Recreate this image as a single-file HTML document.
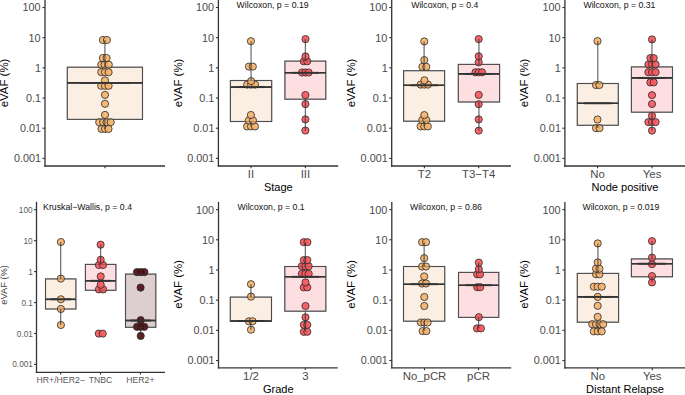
<!DOCTYPE html>
<html><head><meta charset="utf-8"><title>eVAF boxplots</title>
<style>
html,body{margin:0;padding:0;background:#fff;}
body{width:685px;height:395px;overflow:hidden;}
svg{display:block;font-family:"Liberation Sans",sans-serif;}
</style></head>
<body>
<svg width="685" height="395" viewBox="0 0 685 395">
<rect x="0" y="0" width="685" height="395" fill="#fff"/>
<g>
<line x1="45.0" y1="0" x2="45.0" y2="166.65" stroke="#333333" stroke-width="1.3" />
<line x1="44.35" y1="166.0" x2="165.0" y2="166.0" stroke="#333333" stroke-width="1.3" />
<line x1="42.5" y1="7.5" x2="45.0" y2="7.5" stroke="#333333" stroke-width="1.1" />
<text x="0" y="0" font-size="11.4" fill="#4a4a4a" text-anchor="end" transform="translate(40.60,11.48) scale(0.95,1)" >100</text>
<line x1="42.5" y1="37.68" x2="45.0" y2="37.68" stroke="#333333" stroke-width="1.1" />
<text x="0" y="0" font-size="11.4" fill="#4a4a4a" text-anchor="end" transform="translate(40.60,41.66) scale(0.95,1)" >10</text>
<line x1="42.5" y1="67.86" x2="45.0" y2="67.86" stroke="#333333" stroke-width="1.1" />
<text x="0" y="0" font-size="11.4" fill="#4a4a4a" text-anchor="end" transform="translate(41.00,71.84) scale(0.95,1)" >1</text>
<line x1="42.5" y1="98.04" x2="45.0" y2="98.04" stroke="#333333" stroke-width="1.1" />
<text x="0" y="0" font-size="11.4" fill="#4a4a4a" text-anchor="end" transform="translate(41.00,102.02) scale(0.95,1)" >0.1</text>
<line x1="42.5" y1="128.22" x2="45.0" y2="128.22" stroke="#333333" stroke-width="1.1" />
<text x="0" y="0" font-size="11.4" fill="#4a4a4a" text-anchor="end" transform="translate(41.00,132.20) scale(0.95,1)" >0.01</text>
<line x1="42.5" y1="158.4" x2="45.0" y2="158.4" stroke="#333333" stroke-width="1.1" />
<text x="0" y="0" font-size="11.4" fill="#4a4a4a" text-anchor="end" transform="translate(41.00,162.38) scale(0.95,1)" >0.001</text>
<text x="0" y="0" font-size="11.45" fill="#000" text-anchor="middle" transform="translate(7.6,83.0) rotate(-90)">eVAF (%)</text>
<line x1="105.0" y1="166.0" x2="105.0" y2="168.3" stroke="#333333" stroke-width="1.1" />
<text x="105.0" y="177.8" font-size="11.4" fill="#4a4a4a" text-anchor="middle" ></text>
<rect x="67.3" y="67.2" width="75.2" height="52.2" fill="#FBEFE3" stroke="#4d4d4d" stroke-width="1.1"/>
<line x1="67.3" y1="82.9" x2="142.5" y2="82.9" stroke="#333333" stroke-width="1.6" />
<circle cx="101.5" cy="128.9" r="3.6" fill="#F4B36C" fill-opacity="0.92" stroke="#2a2a2a" stroke-width="0.8"/>
<circle cx="105" cy="128.9" r="3.6" fill="#F4B36C" fill-opacity="0.92" stroke="#2a2a2a" stroke-width="0.8"/>
<circle cx="108.5" cy="128.9" r="3.6" fill="#F4B36C" fill-opacity="0.92" stroke="#2a2a2a" stroke-width="0.8"/>
<circle cx="99.2" cy="122.2" r="3.6" fill="#F4B36C" fill-opacity="0.92" stroke="#2a2a2a" stroke-width="0.8"/>
<circle cx="103.2" cy="122.2" r="3.6" fill="#F4B36C" fill-opacity="0.92" stroke="#2a2a2a" stroke-width="0.8"/>
<circle cx="106.6" cy="122.2" r="3.6" fill="#F4B36C" fill-opacity="0.92" stroke="#2a2a2a" stroke-width="0.8"/>
<circle cx="110.7" cy="122.2" r="3.6" fill="#F4B36C" fill-opacity="0.92" stroke="#2a2a2a" stroke-width="0.8"/>
<circle cx="105" cy="114.9" r="3.6" fill="#F4B36C" fill-opacity="0.92" stroke="#2a2a2a" stroke-width="0.8"/>
<circle cx="105" cy="103.8" r="3.6" fill="#F4B36C" fill-opacity="0.92" stroke="#2a2a2a" stroke-width="0.8"/>
<circle cx="105" cy="94.9" r="3.6" fill="#F4B36C" fill-opacity="0.92" stroke="#2a2a2a" stroke-width="0.8"/>
<circle cx="101.2" cy="85.8" r="3.6" fill="#F4B36C" fill-opacity="0.92" stroke="#2a2a2a" stroke-width="0.8"/>
<circle cx="105" cy="85.8" r="3.6" fill="#F4B36C" fill-opacity="0.92" stroke="#2a2a2a" stroke-width="0.8"/>
<circle cx="108.6" cy="85.8" r="3.6" fill="#F4B36C" fill-opacity="0.92" stroke="#2a2a2a" stroke-width="0.8"/>
<circle cx="105" cy="80.4" r="3.6" fill="#F4B36C" fill-opacity="0.92" stroke="#2a2a2a" stroke-width="0.8"/>
<circle cx="101.3" cy="72.2" r="3.6" fill="#F4B36C" fill-opacity="0.92" stroke="#2a2a2a" stroke-width="0.8"/>
<circle cx="105" cy="72.2" r="3.6" fill="#F4B36C" fill-opacity="0.92" stroke="#2a2a2a" stroke-width="0.8"/>
<circle cx="108.6" cy="72.2" r="3.6" fill="#F4B36C" fill-opacity="0.92" stroke="#2a2a2a" stroke-width="0.8"/>
<circle cx="101.3" cy="64.7" r="3.6" fill="#F4B36C" fill-opacity="0.92" stroke="#2a2a2a" stroke-width="0.8"/>
<circle cx="104.6" cy="64.7" r="3.6" fill="#F4B36C" fill-opacity="0.92" stroke="#2a2a2a" stroke-width="0.8"/>
<circle cx="108.8" cy="64.7" r="3.6" fill="#F4B36C" fill-opacity="0.92" stroke="#2a2a2a" stroke-width="0.8"/>
<circle cx="102.9" cy="58" r="3.6" fill="#F4B36C" fill-opacity="0.92" stroke="#2a2a2a" stroke-width="0.8"/>
<circle cx="106.6" cy="58" r="3.6" fill="#F4B36C" fill-opacity="0.92" stroke="#2a2a2a" stroke-width="0.8"/>
<circle cx="102.9" cy="40" r="3.6" fill="#F4B36C" fill-opacity="0.92" stroke="#2a2a2a" stroke-width="0.8"/>
<circle cx="106.9" cy="40" r="3.6" fill="#F4B36C" fill-opacity="0.92" stroke="#2a2a2a" stroke-width="0.8"/>
<line x1="104.9" y1="40" x2="104.9" y2="67.2" stroke="#333333" stroke-width="1.1" stroke-opacity="0.8"/>
<line x1="104.9" y1="119.4" x2="104.9" y2="128.9" stroke="#333333" stroke-width="1.1" stroke-opacity="0.8"/>
<rect x="67.3" y="67.2" width="75.2" height="52.2" fill="none" stroke="#4d4d4d" stroke-width="1.1" stroke-opacity="0.35"/>
<line x1="67.3" y1="82.9" x2="142.5" y2="82.9" stroke="#333333" stroke-width="1.6" stroke-opacity="0.6"/>
<line x1="79.83333333333334" y1="82.9" x2="129.96666666666667" y2="82.9" stroke="#333" stroke-width="1.9" />
</g>
<g>
<line x1="218.4" y1="0" x2="218.4" y2="166.65" stroke="#333333" stroke-width="1.3" />
<line x1="217.75" y1="166.0" x2="338.2" y2="166.0" stroke="#333333" stroke-width="1.3" />
<line x1="215.9" y1="7.5" x2="218.4" y2="7.5" stroke="#333333" stroke-width="1.1" />
<text x="0" y="0" font-size="11.4" fill="#4a4a4a" text-anchor="end" transform="translate(214.00,11.48) scale(0.95,1)" >100</text>
<line x1="215.9" y1="37.68" x2="218.4" y2="37.68" stroke="#333333" stroke-width="1.1" />
<text x="0" y="0" font-size="11.4" fill="#4a4a4a" text-anchor="end" transform="translate(214.00,41.66) scale(0.95,1)" >10</text>
<line x1="215.9" y1="67.86" x2="218.4" y2="67.86" stroke="#333333" stroke-width="1.1" />
<text x="0" y="0" font-size="11.4" fill="#4a4a4a" text-anchor="end" transform="translate(214.40,71.84) scale(0.95,1)" >1</text>
<line x1="215.9" y1="98.04" x2="218.4" y2="98.04" stroke="#333333" stroke-width="1.1" />
<text x="0" y="0" font-size="11.4" fill="#4a4a4a" text-anchor="end" transform="translate(214.40,102.02) scale(0.95,1)" >0.1</text>
<line x1="215.9" y1="128.22" x2="218.4" y2="128.22" stroke="#333333" stroke-width="1.1" />
<text x="0" y="0" font-size="11.4" fill="#4a4a4a" text-anchor="end" transform="translate(214.40,132.20) scale(0.95,1)" >0.01</text>
<line x1="215.9" y1="158.4" x2="218.4" y2="158.4" stroke="#333333" stroke-width="1.1" />
<text x="0" y="0" font-size="11.4" fill="#4a4a4a" text-anchor="end" transform="translate(214.40,162.38) scale(0.95,1)" >0.001</text>
<text x="0" y="0" font-size="11.45" fill="#000" text-anchor="middle" transform="translate(181.7,83.0) rotate(-90)">eVAF (%)</text>
<line x1="251.0" y1="166.0" x2="251.0" y2="168.3" stroke="#333333" stroke-width="1.1" />
<text x="251.0" y="177.8" font-size="11.4" fill="#4a4a4a" text-anchor="middle" >II</text>
<line x1="305.4" y1="166.0" x2="305.4" y2="168.3" stroke="#333333" stroke-width="1.1" />
<text x="305.4" y="177.8" font-size="11.4" fill="#4a4a4a" text-anchor="middle" >III</text>
<rect x="230.4" y="80.5" width="41.29999999999998" height="41.0" fill="#FBEFE3" stroke="#4d4d4d" stroke-width="1.1"/>
<line x1="230.4" y1="87.1" x2="271.7" y2="87.1" stroke="#333333" stroke-width="1.6" />
<rect x="284.9" y="61.1" width="40.900000000000034" height="38.1" fill="#FDDFE1" stroke="#4d4d4d" stroke-width="1.1"/>
<line x1="284.9" y1="72.8" x2="325.8" y2="72.8" stroke="#333333" stroke-width="1.6" />
<circle cx="247.1" cy="126.4" r="3.6" fill="#F4B36C" fill-opacity="0.92" stroke="#2a2a2a" stroke-width="0.8"/>
<circle cx="251" cy="126.4" r="3.6" fill="#F4B36C" fill-opacity="0.92" stroke="#2a2a2a" stroke-width="0.8"/>
<circle cx="254.9" cy="126.4" r="3.6" fill="#F4B36C" fill-opacity="0.92" stroke="#2a2a2a" stroke-width="0.8"/>
<circle cx="248.8" cy="120.5" r="3.6" fill="#F4B36C" fill-opacity="0.92" stroke="#2a2a2a" stroke-width="0.8"/>
<circle cx="253.0" cy="120.5" r="3.6" fill="#F4B36C" fill-opacity="0.92" stroke="#2a2a2a" stroke-width="0.8"/>
<circle cx="250.9" cy="115" r="3.6" fill="#F4B36C" fill-opacity="0.92" stroke="#2a2a2a" stroke-width="0.8"/>
<circle cx="247.2" cy="84.6" r="3.6" fill="#F4B36C" fill-opacity="0.92" stroke="#2a2a2a" stroke-width="0.8"/>
<circle cx="251.1" cy="84.6" r="3.6" fill="#F4B36C" fill-opacity="0.92" stroke="#2a2a2a" stroke-width="0.8"/>
<circle cx="255.0" cy="84.6" r="3.6" fill="#F4B36C" fill-opacity="0.92" stroke="#2a2a2a" stroke-width="0.8"/>
<circle cx="251.1" cy="81.1" r="3.6" fill="#F4B36C" fill-opacity="0.92" stroke="#2a2a2a" stroke-width="0.8"/>
<circle cx="249.0" cy="66.6" r="3.6" fill="#F4B36C" fill-opacity="0.92" stroke="#2a2a2a" stroke-width="0.8"/>
<circle cx="252.8" cy="66.6" r="3.6" fill="#F4B36C" fill-opacity="0.92" stroke="#2a2a2a" stroke-width="0.8"/>
<circle cx="250.9" cy="41.2" r="3.6" fill="#F4B36C" fill-opacity="0.92" stroke="#2a2a2a" stroke-width="0.8"/>
<circle cx="305.4" cy="130.5" r="3.6" fill="#F6575D" fill-opacity="0.92" stroke="#2a2a2a" stroke-width="0.8"/>
<circle cx="305.4" cy="119.4" r="3.6" fill="#F6575D" fill-opacity="0.92" stroke="#2a2a2a" stroke-width="0.8"/>
<circle cx="305.4" cy="104.1" r="3.6" fill="#F6575D" fill-opacity="0.92" stroke="#2a2a2a" stroke-width="0.8"/>
<circle cx="305.4" cy="95" r="3.6" fill="#F6575D" fill-opacity="0.92" stroke="#2a2a2a" stroke-width="0.8"/>
<circle cx="302.1" cy="72.5" r="3.6" fill="#F6575D" fill-opacity="0.92" stroke="#2a2a2a" stroke-width="0.8"/>
<circle cx="305.4" cy="72.5" r="3.6" fill="#F6575D" fill-opacity="0.92" stroke="#2a2a2a" stroke-width="0.8"/>
<circle cx="308.6" cy="72.5" r="3.6" fill="#F6575D" fill-opacity="0.92" stroke="#2a2a2a" stroke-width="0.8"/>
<circle cx="303.8" cy="61.3" r="3.6" fill="#F6575D" fill-opacity="0.92" stroke="#2a2a2a" stroke-width="0.8"/>
<circle cx="307.2" cy="61.3" r="3.6" fill="#F6575D" fill-opacity="0.92" stroke="#2a2a2a" stroke-width="0.8"/>
<circle cx="305.5" cy="56.4" r="3.6" fill="#F6575D" fill-opacity="0.92" stroke="#2a2a2a" stroke-width="0.8"/>
<circle cx="305.5" cy="39.1" r="3.6" fill="#F6575D" fill-opacity="0.92" stroke="#2a2a2a" stroke-width="0.8"/>
<line x1="251.05" y1="41.2" x2="251.05" y2="80.5" stroke="#333333" stroke-width="1.1" stroke-opacity="0.8"/>
<line x1="251.05" y1="121.5" x2="251.05" y2="126.4" stroke="#333333" stroke-width="1.1" stroke-opacity="0.8"/>
<rect x="230.4" y="80.5" width="41.29999999999998" height="41.0" fill="none" stroke="#4d4d4d" stroke-width="1.1" stroke-opacity="0.35"/>
<line x1="230.4" y1="87.1" x2="271.7" y2="87.1" stroke="#333333" stroke-width="1.6" stroke-opacity="0.6"/>
<line x1="305.35" y1="39.1" x2="305.35" y2="61.1" stroke="#333333" stroke-width="1.1" stroke-opacity="0.8"/>
<line x1="305.35" y1="99.2" x2="305.35" y2="130.5" stroke="#333333" stroke-width="1.1" stroke-opacity="0.8"/>
<rect x="284.9" y="61.1" width="40.900000000000034" height="38.1" fill="none" stroke="#4d4d4d" stroke-width="1.1" stroke-opacity="0.35"/>
<line x1="284.9" y1="72.8" x2="325.8" y2="72.8" stroke="#333333" stroke-width="1.6" stroke-opacity="0.6"/>
<line x1="237.28333333333336" y1="87.1" x2="264.81666666666666" y2="87.1" stroke="#333" stroke-width="1.9" />
<line x1="291.7166666666667" y1="72.8" x2="318.98333333333335" y2="72.8" stroke="#333" stroke-width="1.9" />
<text x="0" y="0" font-size="9.0" fill="#111" text-anchor="start" transform="translate(236.60,7.90) scale(0.97,1)" >Wilcoxon, p = 0.19</text>
<text x="0" y="0" font-size="11.5" fill="#000" text-anchor="middle" transform="translate(278.30,190.60) scale(0.96,1)" >Stage</text>
</g>
<g>
<line x1="391.7" y1="0" x2="391.7" y2="166.65" stroke="#333333" stroke-width="1.3" />
<line x1="391.05" y1="166.0" x2="510.9" y2="166.0" stroke="#333333" stroke-width="1.3" />
<line x1="389.2" y1="7.5" x2="391.7" y2="7.5" stroke="#333333" stroke-width="1.1" />
<text x="0" y="0" font-size="11.4" fill="#4a4a4a" text-anchor="end" transform="translate(387.30,11.48) scale(0.95,1)" >100</text>
<line x1="389.2" y1="37.68" x2="391.7" y2="37.68" stroke="#333333" stroke-width="1.1" />
<text x="0" y="0" font-size="11.4" fill="#4a4a4a" text-anchor="end" transform="translate(387.30,41.66) scale(0.95,1)" >10</text>
<line x1="389.2" y1="67.86" x2="391.7" y2="67.86" stroke="#333333" stroke-width="1.1" />
<text x="0" y="0" font-size="11.4" fill="#4a4a4a" text-anchor="end" transform="translate(387.70,71.84) scale(0.95,1)" >1</text>
<line x1="389.2" y1="98.04" x2="391.7" y2="98.04" stroke="#333333" stroke-width="1.1" />
<text x="0" y="0" font-size="11.4" fill="#4a4a4a" text-anchor="end" transform="translate(387.70,102.02) scale(0.95,1)" >0.1</text>
<line x1="389.2" y1="128.22" x2="391.7" y2="128.22" stroke="#333333" stroke-width="1.1" />
<text x="0" y="0" font-size="11.4" fill="#4a4a4a" text-anchor="end" transform="translate(387.70,132.20) scale(0.95,1)" >0.01</text>
<line x1="389.2" y1="158.4" x2="391.7" y2="158.4" stroke="#333333" stroke-width="1.1" />
<text x="0" y="0" font-size="11.4" fill="#4a4a4a" text-anchor="end" transform="translate(387.70,162.38) scale(0.95,1)" >0.001</text>
<text x="0" y="0" font-size="11.45" fill="#000" text-anchor="middle" transform="translate(354.95,83.0) rotate(-90)">eVAF (%)</text>
<line x1="424.4" y1="166.0" x2="424.4" y2="168.3" stroke="#333333" stroke-width="1.1" />
<text x="424.4" y="177.8" font-size="11.4" fill="#4a4a4a" text-anchor="middle" >T2</text>
<line x1="478.7" y1="166.0" x2="478.7" y2="168.3" stroke="#333333" stroke-width="1.1" />
<text x="478.7" y="177.8" font-size="11.4" fill="#4a4a4a" text-anchor="middle" >T3−T4</text>
<rect x="403.6" y="70.7" width="41.0" height="50.5" fill="#FBEFE3" stroke="#4d4d4d" stroke-width="1.1"/>
<line x1="403.6" y1="85.3" x2="444.6" y2="85.3" stroke="#333333" stroke-width="1.6" />
<rect x="458.3" y="64.4" width="41.30000000000001" height="37.599999999999994" fill="#FDDFE1" stroke="#4d4d4d" stroke-width="1.1"/>
<line x1="458.3" y1="73.9" x2="499.6" y2="73.9" stroke="#333333" stroke-width="1.6" />
<circle cx="420.6" cy="126.4" r="3.6" fill="#F4B36C" fill-opacity="0.92" stroke="#2a2a2a" stroke-width="0.8"/>
<circle cx="424.3" cy="126.4" r="3.6" fill="#F4B36C" fill-opacity="0.92" stroke="#2a2a2a" stroke-width="0.8"/>
<circle cx="427.8" cy="126.4" r="3.6" fill="#F4B36C" fill-opacity="0.92" stroke="#2a2a2a" stroke-width="0.8"/>
<circle cx="422.3" cy="120" r="3.6" fill="#F4B36C" fill-opacity="0.92" stroke="#2a2a2a" stroke-width="0.8"/>
<circle cx="426.3" cy="120" r="3.6" fill="#F4B36C" fill-opacity="0.92" stroke="#2a2a2a" stroke-width="0.8"/>
<circle cx="424.3" cy="115.1" r="3.6" fill="#F4B36C" fill-opacity="0.92" stroke="#2a2a2a" stroke-width="0.8"/>
<circle cx="420.7" cy="84.6" r="3.6" fill="#F4B36C" fill-opacity="0.92" stroke="#2a2a2a" stroke-width="0.8"/>
<circle cx="424.3" cy="84.6" r="3.6" fill="#F4B36C" fill-opacity="0.92" stroke="#2a2a2a" stroke-width="0.8"/>
<circle cx="427.9" cy="84.6" r="3.6" fill="#F4B36C" fill-opacity="0.92" stroke="#2a2a2a" stroke-width="0.8"/>
<circle cx="424.4" cy="80.3" r="3.6" fill="#F4B36C" fill-opacity="0.92" stroke="#2a2a2a" stroke-width="0.8"/>
<circle cx="422.4" cy="66.8" r="3.6" fill="#F4B36C" fill-opacity="0.92" stroke="#2a2a2a" stroke-width="0.8"/>
<circle cx="426.3" cy="66.8" r="3.6" fill="#F4B36C" fill-opacity="0.92" stroke="#2a2a2a" stroke-width="0.8"/>
<circle cx="424.3" cy="60.1" r="3.6" fill="#F4B36C" fill-opacity="0.92" stroke="#2a2a2a" stroke-width="0.8"/>
<circle cx="424.3" cy="41.4" r="3.6" fill="#F4B36C" fill-opacity="0.92" stroke="#2a2a2a" stroke-width="0.8"/>
<circle cx="478.7" cy="130.6" r="3.6" fill="#F6575D" fill-opacity="0.92" stroke="#2a2a2a" stroke-width="0.8"/>
<circle cx="478.7" cy="119.4" r="3.6" fill="#F6575D" fill-opacity="0.92" stroke="#2a2a2a" stroke-width="0.8"/>
<circle cx="478.7" cy="104.2" r="3.6" fill="#F6575D" fill-opacity="0.92" stroke="#2a2a2a" stroke-width="0.8"/>
<circle cx="478.7" cy="94.9" r="3.6" fill="#F6575D" fill-opacity="0.92" stroke="#2a2a2a" stroke-width="0.8"/>
<circle cx="475.5" cy="72.3" r="3.6" fill="#F6575D" fill-opacity="0.92" stroke="#2a2a2a" stroke-width="0.8"/>
<circle cx="478.7" cy="72.3" r="3.6" fill="#F6575D" fill-opacity="0.92" stroke="#2a2a2a" stroke-width="0.8"/>
<circle cx="482.0" cy="72.3" r="3.6" fill="#F6575D" fill-opacity="0.92" stroke="#2a2a2a" stroke-width="0.8"/>
<circle cx="478.7" cy="62.3" r="3.6" fill="#F6575D" fill-opacity="0.92" stroke="#2a2a2a" stroke-width="0.8"/>
<circle cx="478.7" cy="56.3" r="3.6" fill="#F6575D" fill-opacity="0.92" stroke="#2a2a2a" stroke-width="0.8"/>
<circle cx="478.7" cy="39.1" r="3.6" fill="#F6575D" fill-opacity="0.92" stroke="#2a2a2a" stroke-width="0.8"/>
<line x1="424.1" y1="41.4" x2="424.1" y2="70.7" stroke="#333333" stroke-width="1.1" stroke-opacity="0.8"/>
<line x1="424.1" y1="121.2" x2="424.1" y2="126.4" stroke="#333333" stroke-width="1.1" stroke-opacity="0.8"/>
<rect x="403.6" y="70.7" width="41.0" height="50.5" fill="none" stroke="#4d4d4d" stroke-width="1.1" stroke-opacity="0.35"/>
<line x1="403.6" y1="85.3" x2="444.6" y2="85.3" stroke="#333333" stroke-width="1.6" stroke-opacity="0.6"/>
<line x1="478.95000000000005" y1="39.1" x2="478.95000000000005" y2="64.4" stroke="#333333" stroke-width="1.1" stroke-opacity="0.8"/>
<line x1="478.95000000000005" y1="102.0" x2="478.95000000000005" y2="130.6" stroke="#333333" stroke-width="1.1" stroke-opacity="0.8"/>
<rect x="458.3" y="64.4" width="41.30000000000001" height="37.599999999999994" fill="none" stroke="#4d4d4d" stroke-width="1.1" stroke-opacity="0.35"/>
<line x1="458.3" y1="73.9" x2="499.6" y2="73.9" stroke="#333333" stroke-width="1.6" stroke-opacity="0.6"/>
<line x1="410.43333333333334" y1="85.3" x2="437.7666666666667" y2="85.3" stroke="#333" stroke-width="1.9" />
<line x1="465.1833333333334" y1="73.9" x2="492.7166666666667" y2="73.9" stroke="#333" stroke-width="1.9" />
<text x="0" y="0" font-size="9.0" fill="#111" text-anchor="start" transform="translate(411.20,7.90) scale(0.97,1)" >Wilcoxon, p = 0.4</text>
</g>
<g>
<line x1="564.9" y1="0" x2="564.9" y2="166.65" stroke="#333333" stroke-width="1.3" />
<line x1="564.25" y1="166.0" x2="686" y2="166.0" stroke="#333333" stroke-width="1.3" />
<line x1="562.4" y1="7.5" x2="564.9" y2="7.5" stroke="#333333" stroke-width="1.1" />
<text x="0" y="0" font-size="11.4" fill="#4a4a4a" text-anchor="end" transform="translate(560.50,11.48) scale(0.95,1)" >100</text>
<line x1="562.4" y1="37.68" x2="564.9" y2="37.68" stroke="#333333" stroke-width="1.1" />
<text x="0" y="0" font-size="11.4" fill="#4a4a4a" text-anchor="end" transform="translate(560.50,41.66) scale(0.95,1)" >10</text>
<line x1="562.4" y1="67.86" x2="564.9" y2="67.86" stroke="#333333" stroke-width="1.1" />
<text x="0" y="0" font-size="11.4" fill="#4a4a4a" text-anchor="end" transform="translate(560.90,71.84) scale(0.95,1)" >1</text>
<line x1="562.4" y1="98.04" x2="564.9" y2="98.04" stroke="#333333" stroke-width="1.1" />
<text x="0" y="0" font-size="11.4" fill="#4a4a4a" text-anchor="end" transform="translate(560.90,102.02) scale(0.95,1)" >0.1</text>
<line x1="562.4" y1="128.22" x2="564.9" y2="128.22" stroke="#333333" stroke-width="1.1" />
<text x="0" y="0" font-size="11.4" fill="#4a4a4a" text-anchor="end" transform="translate(560.90,132.20) scale(0.95,1)" >0.01</text>
<line x1="562.4" y1="158.4" x2="564.9" y2="158.4" stroke="#333333" stroke-width="1.1" />
<text x="0" y="0" font-size="11.4" fill="#4a4a4a" text-anchor="end" transform="translate(560.90,162.38) scale(0.95,1)" >0.001</text>
<text x="0" y="0" font-size="11.45" fill="#000" text-anchor="middle" transform="translate(528.2,83.0) rotate(-90)">eVAF (%)</text>
<line x1="597.6" y1="166.0" x2="597.6" y2="168.3" stroke="#333333" stroke-width="1.1" />
<text x="597.6" y="177.8" font-size="11.4" fill="#4a4a4a" text-anchor="middle" >No</text>
<line x1="652.1" y1="166.0" x2="652.1" y2="168.3" stroke="#333333" stroke-width="1.1" />
<text x="652.1" y="177.8" font-size="11.4" fill="#4a4a4a" text-anchor="middle" >Yes</text>
<rect x="577.3" y="83.5" width="41.0" height="41.8" fill="#FBEFE3" stroke="#4d4d4d" stroke-width="1.1"/>
<line x1="577.3" y1="103.3" x2="618.3" y2="103.3" stroke="#333333" stroke-width="1.6" />
<rect x="631.4" y="66.9" width="41.10000000000002" height="45.3" fill="#FDDFE1" stroke="#4d4d4d" stroke-width="1.1"/>
<line x1="631.4" y1="77.9" x2="672.5" y2="77.9" stroke="#333333" stroke-width="1.6" />
<circle cx="596.0" cy="128.1" r="3.6" fill="#F4B36C" fill-opacity="0.92" stroke="#2a2a2a" stroke-width="0.8"/>
<circle cx="599.5" cy="128.1" r="3.6" fill="#F4B36C" fill-opacity="0.92" stroke="#2a2a2a" stroke-width="0.8"/>
<circle cx="597.5" cy="119.5" r="3.6" fill="#F4B36C" fill-opacity="0.92" stroke="#2a2a2a" stroke-width="0.8"/>
<circle cx="596.0" cy="85" r="3.6" fill="#F4B36C" fill-opacity="0.92" stroke="#2a2a2a" stroke-width="0.8"/>
<circle cx="599.3" cy="85" r="3.6" fill="#F4B36C" fill-opacity="0.92" stroke="#2a2a2a" stroke-width="0.8"/>
<circle cx="597.5" cy="41.1" r="3.6" fill="#F4B36C" fill-opacity="0.92" stroke="#2a2a2a" stroke-width="0.8"/>
<circle cx="652" cy="130.6" r="3.6" fill="#F6575D" fill-opacity="0.92" stroke="#2a2a2a" stroke-width="0.8"/>
<circle cx="648.4" cy="122.1" r="3.6" fill="#F6575D" fill-opacity="0.92" stroke="#2a2a2a" stroke-width="0.8"/>
<circle cx="652" cy="122.1" r="3.6" fill="#F6575D" fill-opacity="0.92" stroke="#2a2a2a" stroke-width="0.8"/>
<circle cx="655.6" cy="122.1" r="3.6" fill="#F6575D" fill-opacity="0.92" stroke="#2a2a2a" stroke-width="0.8"/>
<circle cx="652" cy="115.7" r="3.6" fill="#F6575D" fill-opacity="0.92" stroke="#2a2a2a" stroke-width="0.8"/>
<circle cx="652" cy="104" r="3.6" fill="#F6575D" fill-opacity="0.92" stroke="#2a2a2a" stroke-width="0.8"/>
<circle cx="652" cy="95.2" r="3.6" fill="#F6575D" fill-opacity="0.92" stroke="#2a2a2a" stroke-width="0.8"/>
<circle cx="650.4" cy="82.4" r="3.6" fill="#F6575D" fill-opacity="0.92" stroke="#2a2a2a" stroke-width="0.8"/>
<circle cx="653.7" cy="82.4" r="3.6" fill="#F6575D" fill-opacity="0.92" stroke="#2a2a2a" stroke-width="0.8"/>
<circle cx="648.4" cy="72.2" r="3.6" fill="#F6575D" fill-opacity="0.92" stroke="#2a2a2a" stroke-width="0.8"/>
<circle cx="652" cy="72.2" r="3.6" fill="#F6575D" fill-opacity="0.92" stroke="#2a2a2a" stroke-width="0.8"/>
<circle cx="655.6" cy="72.2" r="3.6" fill="#F6575D" fill-opacity="0.92" stroke="#2a2a2a" stroke-width="0.8"/>
<circle cx="648.4" cy="64.5" r="3.6" fill="#F6575D" fill-opacity="0.92" stroke="#2a2a2a" stroke-width="0.8"/>
<circle cx="652" cy="64.5" r="3.6" fill="#F6575D" fill-opacity="0.92" stroke="#2a2a2a" stroke-width="0.8"/>
<circle cx="655.6" cy="64.5" r="3.6" fill="#F6575D" fill-opacity="0.92" stroke="#2a2a2a" stroke-width="0.8"/>
<circle cx="650.4" cy="58.1" r="3.6" fill="#F6575D" fill-opacity="0.92" stroke="#2a2a2a" stroke-width="0.8"/>
<circle cx="653.7" cy="58.1" r="3.6" fill="#F6575D" fill-opacity="0.92" stroke="#2a2a2a" stroke-width="0.8"/>
<circle cx="652" cy="39.4" r="3.6" fill="#F6575D" fill-opacity="0.92" stroke="#2a2a2a" stroke-width="0.8"/>
<line x1="597.8" y1="41.1" x2="597.8" y2="83.5" stroke="#333333" stroke-width="1.1" stroke-opacity="0.8"/>
<line x1="597.8" y1="125.3" x2="597.8" y2="128.1" stroke="#333333" stroke-width="1.1" stroke-opacity="0.8"/>
<rect x="577.3" y="83.5" width="41.0" height="41.8" fill="none" stroke="#4d4d4d" stroke-width="1.1" stroke-opacity="0.35"/>
<line x1="577.3" y1="103.3" x2="618.3" y2="103.3" stroke="#333333" stroke-width="1.6" stroke-opacity="0.6"/>
<line x1="651.95" y1="39.4" x2="651.95" y2="66.9" stroke="#333333" stroke-width="1.1" stroke-opacity="0.8"/>
<line x1="651.95" y1="112.2" x2="651.95" y2="130.6" stroke="#333333" stroke-width="1.1" stroke-opacity="0.8"/>
<rect x="631.4" y="66.9" width="41.10000000000002" height="45.3" fill="none" stroke="#4d4d4d" stroke-width="1.1" stroke-opacity="0.35"/>
<line x1="631.4" y1="77.9" x2="672.5" y2="77.9" stroke="#333333" stroke-width="1.6" stroke-opacity="0.6"/>
<line x1="584.1333333333333" y1="103.3" x2="611.4666666666666" y2="103.3" stroke="#333" stroke-width="1.9" />
<line x1="638.25" y1="77.9" x2="665.6500000000001" y2="77.9" stroke="#333" stroke-width="1.9" />
<text x="0" y="0" font-size="9.0" fill="#111" text-anchor="start" transform="translate(583.40,7.90) scale(0.97,1)" >Wilcoxon, p = 0.31</text>
<text x="0" y="0" font-size="11.5" fill="#000" text-anchor="middle" transform="translate(625.00,190.60) scale(0.96,1)" >Node positive</text>
</g>
<g>
<line x1="36.5" y1="201.8" x2="36.5" y2="372.95" stroke="#333333" stroke-width="1.3" />
<line x1="35.85" y1="372.3" x2="165.0" y2="372.3" stroke="#333333" stroke-width="1.3" />
<line x1="34.0" y1="209.70000000000002" x2="36.5" y2="209.70000000000002" stroke="#333333" stroke-width="1.1" />
<text x="0" y="0" font-size="8.7" fill="#595959" text-anchor="end" transform="translate(32.60,212.74) scale(0.95,1)" >100</text>
<line x1="34.0" y1="240.65000000000003" x2="36.5" y2="240.65000000000003" stroke="#333333" stroke-width="1.1" />
<text x="0" y="0" font-size="8.7" fill="#595959" text-anchor="end" transform="translate(32.60,243.69) scale(0.95,1)" >10</text>
<line x1="34.0" y1="271.6" x2="36.5" y2="271.6" stroke="#333333" stroke-width="1.1" />
<text x="0" y="0" font-size="8.7" fill="#595959" text-anchor="end" transform="translate(32.90,274.64) scale(0.95,1)" >1</text>
<line x1="34.0" y1="302.55" x2="36.5" y2="302.55" stroke="#333333" stroke-width="1.1" />
<text x="0" y="0" font-size="8.7" fill="#595959" text-anchor="end" transform="translate(32.90,305.59) scale(0.95,1)" >0.1</text>
<line x1="34.0" y1="333.5" x2="36.5" y2="333.5" stroke="#333333" stroke-width="1.1" />
<text x="0" y="0" font-size="8.7" fill="#595959" text-anchor="end" transform="translate(32.90,336.54) scale(0.95,1)" >0.01</text>
<line x1="34.0" y1="364.45000000000005" x2="36.5" y2="364.45000000000005" stroke="#333333" stroke-width="1.1" />
<text x="0" y="0" font-size="8.7" fill="#595959" text-anchor="end" transform="translate(32.90,367.49) scale(0.95,1)" >0.001</text>
<text x="0" y="0" font-size="9.3" fill="#444" text-anchor="middle" transform="translate(6.9,284.9) rotate(-90)">eVAF (%)</text>
<line x1="60.7" y1="372.3" x2="60.7" y2="374.6" stroke="#333333" stroke-width="1.1" />
<text x="60.7" y="382.6" font-size="8.7" fill="#595959" text-anchor="middle" >HR+/HER2−</text>
<line x1="100.5" y1="372.3" x2="100.5" y2="374.6" stroke="#333333" stroke-width="1.1" />
<text x="100.5" y="382.6" font-size="8.7" fill="#595959" text-anchor="middle" >TNBC</text>
<line x1="140.4" y1="372.3" x2="140.4" y2="374.6" stroke="#333333" stroke-width="1.1" />
<text x="140.4" y="382.6" font-size="8.7" fill="#595959" text-anchor="middle" >HER2+</text>
<rect x="45.5" y="278.9" width="30.400000000000006" height="30.100000000000023" fill="#FBEFE3" stroke="#4d4d4d" stroke-width="1.1"/>
<line x1="45.5" y1="299.3" x2="75.9" y2="299.3" stroke="#333333" stroke-width="1.6" />
<rect x="85.4" y="264.4" width="30.5" height="25.900000000000034" fill="#FDDFE1" stroke="#4d4d4d" stroke-width="1.1"/>
<line x1="85.4" y1="280.8" x2="115.9" y2="280.8" stroke="#333333" stroke-width="1.6" />
<rect x="125.5" y="274.1" width="30.30000000000001" height="53.19999999999999" fill="#DDCED0" stroke="#4d4d4d" stroke-width="1.1"/>
<line x1="125.5" y1="320.5" x2="155.8" y2="320.5" stroke="#333333" stroke-width="1.6" />
<circle cx="60.9" cy="325" r="3.6" fill="#F4B36C" fill-opacity="0.92" stroke="#2a2a2a" stroke-width="0.8"/>
<circle cx="60.9" cy="309" r="3.6" fill="#F4B36C" fill-opacity="0.92" stroke="#2a2a2a" stroke-width="0.8"/>
<circle cx="60.9" cy="299.3" r="3.6" fill="#F4B36C" fill-opacity="0.92" stroke="#2a2a2a" stroke-width="0.8"/>
<circle cx="60.9" cy="278.6" r="3.6" fill="#F4B36C" fill-opacity="0.92" stroke="#2a2a2a" stroke-width="0.8"/>
<circle cx="60.9" cy="242" r="3.6" fill="#F4B36C" fill-opacity="0.92" stroke="#2a2a2a" stroke-width="0.8"/>
<circle cx="98.8" cy="333.6" r="3.6" fill="#F6575D" fill-opacity="0.92" stroke="#2a2a2a" stroke-width="0.8"/>
<circle cx="102.7" cy="333.6" r="3.6" fill="#F6575D" fill-opacity="0.92" stroke="#2a2a2a" stroke-width="0.8"/>
<circle cx="98.9" cy="289.4" r="3.6" fill="#F6575D" fill-opacity="0.92" stroke="#2a2a2a" stroke-width="0.8"/>
<circle cx="103.1" cy="289.4" r="3.6" fill="#F6575D" fill-opacity="0.92" stroke="#2a2a2a" stroke-width="0.8"/>
<circle cx="100.7" cy="284.8" r="3.6" fill="#F6575D" fill-opacity="0.92" stroke="#2a2a2a" stroke-width="0.8"/>
<circle cx="100.7" cy="276.4" r="3.6" fill="#F6575D" fill-opacity="0.92" stroke="#2a2a2a" stroke-width="0.8"/>
<circle cx="98.9" cy="265.0" r="3.6" fill="#F6575D" fill-opacity="0.92" stroke="#2a2a2a" stroke-width="0.8"/>
<circle cx="103.0" cy="265.0" r="3.6" fill="#F6575D" fill-opacity="0.92" stroke="#2a2a2a" stroke-width="0.8"/>
<circle cx="100.7" cy="259.8" r="3.6" fill="#F6575D" fill-opacity="0.92" stroke="#2a2a2a" stroke-width="0.8"/>
<circle cx="100.6" cy="244.7" r="3.6" fill="#F6575D" fill-opacity="0.92" stroke="#2a2a2a" stroke-width="0.8"/>
<circle cx="140.7" cy="335.9" r="3.6" fill="#500D11" fill-opacity="0.92" stroke="#2a2a2a" stroke-width="0.8"/>
<circle cx="137.0" cy="326.8" r="3.6" fill="#500D11" fill-opacity="0.92" stroke="#2a2a2a" stroke-width="0.8"/>
<circle cx="140.6" cy="326.8" r="3.6" fill="#500D11" fill-opacity="0.92" stroke="#2a2a2a" stroke-width="0.8"/>
<circle cx="144.3" cy="326.8" r="3.6" fill="#500D11" fill-opacity="0.92" stroke="#2a2a2a" stroke-width="0.8"/>
<circle cx="140.7" cy="320.2" r="3.6" fill="#500D11" fill-opacity="0.92" stroke="#2a2a2a" stroke-width="0.8"/>
<circle cx="140.6" cy="287.6" r="3.6" fill="#500D11" fill-opacity="0.92" stroke="#2a2a2a" stroke-width="0.8"/>
<circle cx="137.0" cy="272.1" r="3.6" fill="#500D11" fill-opacity="0.92" stroke="#2a2a2a" stroke-width="0.8"/>
<circle cx="140.7" cy="272.1" r="3.6" fill="#500D11" fill-opacity="0.92" stroke="#2a2a2a" stroke-width="0.8"/>
<circle cx="144.4" cy="272.1" r="3.6" fill="#500D11" fill-opacity="0.92" stroke="#2a2a2a" stroke-width="0.8"/>
<line x1="60.7" y1="242" x2="60.7" y2="278.9" stroke="#333333" stroke-width="1.1" stroke-opacity="0.8"/>
<line x1="60.7" y1="309.0" x2="60.7" y2="325" stroke="#333333" stroke-width="1.1" stroke-opacity="0.8"/>
<rect x="45.5" y="278.9" width="30.400000000000006" height="30.100000000000023" fill="none" stroke="#4d4d4d" stroke-width="1.1" stroke-opacity="0.35"/>
<line x1="45.5" y1="299.3" x2="75.9" y2="299.3" stroke="#333333" stroke-width="1.6" stroke-opacity="0.6"/>
<line x1="100.65" y1="244.7" x2="100.65" y2="264.4" stroke="#333333" stroke-width="1.1" stroke-opacity="0.8"/>
<rect x="85.4" y="264.4" width="30.5" height="25.900000000000034" fill="none" stroke="#4d4d4d" stroke-width="1.1" stroke-opacity="0.35"/>
<line x1="85.4" y1="280.8" x2="115.9" y2="280.8" stroke="#333333" stroke-width="1.6" stroke-opacity="0.6"/>
<line x1="140.65" y1="272.1" x2="140.65" y2="274.1" stroke="#333333" stroke-width="1.1" stroke-opacity="0.8"/>
<line x1="140.65" y1="327.3" x2="140.65" y2="335.9" stroke="#333333" stroke-width="1.1" stroke-opacity="0.8"/>
<rect x="125.5" y="274.1" width="30.30000000000001" height="53.19999999999999" fill="none" stroke="#4d4d4d" stroke-width="1.1" stroke-opacity="0.35"/>
<line x1="125.5" y1="320.5" x2="155.8" y2="320.5" stroke="#333333" stroke-width="1.6" stroke-opacity="0.6"/>
<line x1="50.56666666666667" y1="299.3" x2="70.83333333333334" y2="299.3" stroke="#333" stroke-width="1.9" />
<line x1="90.48333333333333" y1="280.8" x2="110.81666666666668" y2="280.8" stroke="#333" stroke-width="1.9" />
<line x1="130.55" y1="320.5" x2="150.75" y2="320.5" stroke="#333" stroke-width="1.9" />
<text x="0" y="0" font-size="9.0" fill="#111" text-anchor="start" transform="translate(43.10,209.80) scale(0.97,1)" >Kruskal−Wallis, p = 0.4</text>
</g>
<g>
<line x1="218.5" y1="201.9" x2="218.5" y2="368.45" stroke="#333333" stroke-width="1.3" />
<line x1="217.85" y1="367.8" x2="337.7" y2="367.8" stroke="#333333" stroke-width="1.3" />
<line x1="216.0" y1="209.6" x2="218.5" y2="209.6" stroke="#333333" stroke-width="1.1" />
<text x="0" y="0" font-size="11.4" fill="#4a4a4a" text-anchor="end" transform="translate(214.10,213.58) scale(0.95,1)" >100</text>
<line x1="216.0" y1="239.78" x2="218.5" y2="239.78" stroke="#333333" stroke-width="1.1" />
<text x="0" y="0" font-size="11.4" fill="#4a4a4a" text-anchor="end" transform="translate(214.10,243.76) scale(0.95,1)" >10</text>
<line x1="216.0" y1="269.96" x2="218.5" y2="269.96" stroke="#333333" stroke-width="1.1" />
<text x="0" y="0" font-size="11.4" fill="#4a4a4a" text-anchor="end" transform="translate(214.50,273.94) scale(0.95,1)" >1</text>
<line x1="216.0" y1="300.14" x2="218.5" y2="300.14" stroke="#333333" stroke-width="1.1" />
<text x="0" y="0" font-size="11.4" fill="#4a4a4a" text-anchor="end" transform="translate(214.50,304.12) scale(0.95,1)" >0.1</text>
<line x1="216.0" y1="330.32" x2="218.5" y2="330.32" stroke="#333333" stroke-width="1.1" />
<text x="0" y="0" font-size="11.4" fill="#4a4a4a" text-anchor="end" transform="translate(214.50,334.30) scale(0.95,1)" >0.01</text>
<line x1="216.0" y1="360.5" x2="218.5" y2="360.5" stroke="#333333" stroke-width="1.1" />
<text x="0" y="0" font-size="11.4" fill="#4a4a4a" text-anchor="end" transform="translate(214.50,364.48) scale(0.95,1)" >0.001</text>
<text x="0" y="0" font-size="11.45" fill="#000" text-anchor="middle" transform="translate(181.7,284.4) rotate(-90)">eVAF (%)</text>
<line x1="251.0" y1="367.8" x2="251.0" y2="370.1" stroke="#333333" stroke-width="1.1" />
<text x="251.0" y="379.7" font-size="11.4" fill="#4a4a4a" text-anchor="middle" >1/2</text>
<line x1="305.3" y1="367.8" x2="305.3" y2="370.1" stroke="#333333" stroke-width="1.1" />
<text x="305.3" y="379.7" font-size="11.4" fill="#4a4a4a" text-anchor="middle" >3</text>
<rect x="230.3" y="297.1" width="41.19999999999999" height="24.099999999999966" fill="#FBEFE3" stroke="#4d4d4d" stroke-width="1.1"/>
<line x1="230.3" y1="321.0" x2="271.5" y2="321.0" stroke="#333333" stroke-width="1.6" />
<rect x="284.8" y="266.5" width="41.05000000000001" height="44.69999999999999" fill="#FDDFE1" stroke="#4d4d4d" stroke-width="1.1"/>
<line x1="284.8" y1="276.8" x2="325.85" y2="276.8" stroke="#333333" stroke-width="1.6" />
<circle cx="251" cy="329.7" r="3.6" fill="#F4B36C" fill-opacity="0.92" stroke="#2a2a2a" stroke-width="0.8"/>
<circle cx="248.9" cy="321.3" r="3.6" fill="#F4B36C" fill-opacity="0.92" stroke="#2a2a2a" stroke-width="0.8"/>
<circle cx="252.6" cy="321.3" r="3.6" fill="#F4B36C" fill-opacity="0.92" stroke="#2a2a2a" stroke-width="0.8"/>
<circle cx="251" cy="296.6" r="3.6" fill="#F4B36C" fill-opacity="0.92" stroke="#2a2a2a" stroke-width="0.8"/>
<circle cx="251" cy="284.2" r="3.6" fill="#F4B36C" fill-opacity="0.92" stroke="#2a2a2a" stroke-width="0.8"/>
<circle cx="303.8" cy="331.8" r="3.6" fill="#F6575D" fill-opacity="0.92" stroke="#2a2a2a" stroke-width="0.8"/>
<circle cx="307.3" cy="331.8" r="3.6" fill="#F6575D" fill-opacity="0.92" stroke="#2a2a2a" stroke-width="0.8"/>
<circle cx="303.8" cy="324.8" r="3.6" fill="#F6575D" fill-opacity="0.92" stroke="#2a2a2a" stroke-width="0.8"/>
<circle cx="307.3" cy="324.8" r="3.6" fill="#F6575D" fill-opacity="0.92" stroke="#2a2a2a" stroke-width="0.8"/>
<circle cx="305.5" cy="317.3" r="3.6" fill="#F6575D" fill-opacity="0.92" stroke="#2a2a2a" stroke-width="0.8"/>
<circle cx="305.5" cy="306" r="3.6" fill="#F6575D" fill-opacity="0.92" stroke="#2a2a2a" stroke-width="0.8"/>
<circle cx="303.8" cy="287.4" r="3.6" fill="#F6575D" fill-opacity="0.92" stroke="#2a2a2a" stroke-width="0.8"/>
<circle cx="307.3" cy="287.4" r="3.6" fill="#F6575D" fill-opacity="0.92" stroke="#2a2a2a" stroke-width="0.8"/>
<circle cx="305.5" cy="282.4" r="3.6" fill="#F6575D" fill-opacity="0.92" stroke="#2a2a2a" stroke-width="0.8"/>
<circle cx="301.9" cy="273.8" r="3.6" fill="#F6575D" fill-opacity="0.92" stroke="#2a2a2a" stroke-width="0.8"/>
<circle cx="305.3" cy="273.8" r="3.6" fill="#F6575D" fill-opacity="0.92" stroke="#2a2a2a" stroke-width="0.8"/>
<circle cx="308.7" cy="273.8" r="3.6" fill="#F6575D" fill-opacity="0.92" stroke="#2a2a2a" stroke-width="0.8"/>
<circle cx="301.9" cy="266.2" r="3.6" fill="#F6575D" fill-opacity="0.92" stroke="#2a2a2a" stroke-width="0.8"/>
<circle cx="305.3" cy="266.2" r="3.6" fill="#F6575D" fill-opacity="0.92" stroke="#2a2a2a" stroke-width="0.8"/>
<circle cx="308.7" cy="266.2" r="3.6" fill="#F6575D" fill-opacity="0.92" stroke="#2a2a2a" stroke-width="0.8"/>
<circle cx="303.8" cy="260.1" r="3.6" fill="#F6575D" fill-opacity="0.92" stroke="#2a2a2a" stroke-width="0.8"/>
<circle cx="307.3" cy="260.1" r="3.6" fill="#F6575D" fill-opacity="0.92" stroke="#2a2a2a" stroke-width="0.8"/>
<circle cx="303.8" cy="242.2" r="3.6" fill="#F6575D" fill-opacity="0.92" stroke="#2a2a2a" stroke-width="0.8"/>
<circle cx="307.4" cy="242.2" r="3.6" fill="#F6575D" fill-opacity="0.92" stroke="#2a2a2a" stroke-width="0.8"/>
<line x1="250.9" y1="284.2" x2="250.9" y2="297.1" stroke="#333333" stroke-width="1.1" stroke-opacity="0.8"/>
<line x1="250.9" y1="321.2" x2="250.9" y2="329.7" stroke="#333333" stroke-width="1.1" stroke-opacity="0.8"/>
<rect x="230.3" y="297.1" width="41.19999999999999" height="24.099999999999966" fill="none" stroke="#4d4d4d" stroke-width="1.1" stroke-opacity="0.35"/>
<line x1="230.3" y1="321.0" x2="271.5" y2="321.0" stroke="#333333" stroke-width="1.6" stroke-opacity="0.6"/>
<line x1="305.32500000000005" y1="242.2" x2="305.32500000000005" y2="266.5" stroke="#333333" stroke-width="1.1" stroke-opacity="0.8"/>
<line x1="305.32500000000005" y1="311.2" x2="305.32500000000005" y2="331.8" stroke="#333333" stroke-width="1.1" stroke-opacity="0.8"/>
<rect x="284.8" y="266.5" width="41.05000000000001" height="44.69999999999999" fill="none" stroke="#4d4d4d" stroke-width="1.1" stroke-opacity="0.35"/>
<line x1="284.8" y1="276.8" x2="325.85" y2="276.8" stroke="#333333" stroke-width="1.6" stroke-opacity="0.6"/>
<line x1="237.16666666666669" y1="321.0" x2="264.6333333333333" y2="321.0" stroke="#333" stroke-width="1.9" />
<line x1="291.6416666666667" y1="276.8" x2="319.0083333333334" y2="276.8" stroke="#333" stroke-width="1.9" />
<text x="0" y="0" font-size="9.0" fill="#111" text-anchor="start" transform="translate(237.50,209.80) scale(0.97,1)" >Wilcoxon, p = 0.1</text>
<text x="0" y="0" font-size="11.5" fill="#000" text-anchor="middle" transform="translate(278.30,392.50) scale(0.96,1)" >Grade</text>
</g>
<g>
<line x1="391.8" y1="201.9" x2="391.8" y2="368.54999999999995" stroke="#333333" stroke-width="1.3" />
<line x1="391.15000000000003" y1="367.9" x2="511.2" y2="367.9" stroke="#333333" stroke-width="1.3" />
<line x1="389.3" y1="209.6" x2="391.8" y2="209.6" stroke="#333333" stroke-width="1.1" />
<text x="0" y="0" font-size="11.4" fill="#4a4a4a" text-anchor="end" transform="translate(387.40,213.58) scale(0.95,1)" >100</text>
<line x1="389.3" y1="239.78" x2="391.8" y2="239.78" stroke="#333333" stroke-width="1.1" />
<text x="0" y="0" font-size="11.4" fill="#4a4a4a" text-anchor="end" transform="translate(387.40,243.76) scale(0.95,1)" >10</text>
<line x1="389.3" y1="269.96" x2="391.8" y2="269.96" stroke="#333333" stroke-width="1.1" />
<text x="0" y="0" font-size="11.4" fill="#4a4a4a" text-anchor="end" transform="translate(387.80,273.94) scale(0.95,1)" >1</text>
<line x1="389.3" y1="300.14" x2="391.8" y2="300.14" stroke="#333333" stroke-width="1.1" />
<text x="0" y="0" font-size="11.4" fill="#4a4a4a" text-anchor="end" transform="translate(387.80,304.12) scale(0.95,1)" >0.1</text>
<line x1="389.3" y1="330.32" x2="391.8" y2="330.32" stroke="#333333" stroke-width="1.1" />
<text x="0" y="0" font-size="11.4" fill="#4a4a4a" text-anchor="end" transform="translate(387.80,334.30) scale(0.95,1)" >0.01</text>
<line x1="389.3" y1="360.5" x2="391.8" y2="360.5" stroke="#333333" stroke-width="1.1" />
<text x="0" y="0" font-size="11.4" fill="#4a4a4a" text-anchor="end" transform="translate(387.80,364.48) scale(0.95,1)" >0.001</text>
<text x="0" y="0" font-size="11.45" fill="#000" text-anchor="middle" transform="translate(354.95,284.4) rotate(-90)">eVAF (%)</text>
<line x1="424.5" y1="367.9" x2="424.5" y2="370.2" stroke="#333333" stroke-width="1.1" />
<text x="424.5" y="379.7" font-size="11.4" fill="#4a4a4a" text-anchor="middle" >No_pCR</text>
<line x1="478.5" y1="367.9" x2="478.5" y2="370.2" stroke="#333333" stroke-width="1.1" />
<text x="478.5" y="379.7" font-size="11.4" fill="#4a4a4a" text-anchor="middle" >pCR</text>
<rect x="403.5" y="266.5" width="41.25" height="54.69999999999999" fill="#FBEFE3" stroke="#4d4d4d" stroke-width="1.1"/>
<line x1="403.5" y1="284.2" x2="444.75" y2="284.2" stroke="#333333" stroke-width="1.6" />
<rect x="458.5" y="272.4" width="40.30000000000001" height="45.0" fill="#FDDFE1" stroke="#4d4d4d" stroke-width="1.1"/>
<line x1="458.5" y1="285.2" x2="498.8" y2="285.2" stroke="#333333" stroke-width="1.6" />
<circle cx="422.6" cy="331.1" r="3.6" fill="#F4B36C" fill-opacity="0.92" stroke="#2a2a2a" stroke-width="0.8"/>
<circle cx="426.4" cy="331.1" r="3.6" fill="#F4B36C" fill-opacity="0.92" stroke="#2a2a2a" stroke-width="0.8"/>
<circle cx="420.9" cy="322.5" r="3.6" fill="#F4B36C" fill-opacity="0.92" stroke="#2a2a2a" stroke-width="0.8"/>
<circle cx="424.3" cy="322.5" r="3.6" fill="#F4B36C" fill-opacity="0.92" stroke="#2a2a2a" stroke-width="0.8"/>
<circle cx="427.6" cy="322.5" r="3.6" fill="#F4B36C" fill-opacity="0.92" stroke="#2a2a2a" stroke-width="0.8"/>
<circle cx="424.3" cy="306" r="3.6" fill="#F4B36C" fill-opacity="0.92" stroke="#2a2a2a" stroke-width="0.8"/>
<circle cx="424.3" cy="297" r="3.6" fill="#F4B36C" fill-opacity="0.92" stroke="#2a2a2a" stroke-width="0.8"/>
<circle cx="422.1" cy="283.5" r="3.6" fill="#F4B36C" fill-opacity="0.92" stroke="#2a2a2a" stroke-width="0.8"/>
<circle cx="426.0" cy="283.5" r="3.6" fill="#F4B36C" fill-opacity="0.92" stroke="#2a2a2a" stroke-width="0.8"/>
<circle cx="424.2" cy="276.4" r="3.6" fill="#F4B36C" fill-opacity="0.92" stroke="#2a2a2a" stroke-width="0.8"/>
<circle cx="422.1" cy="266.5" r="3.6" fill="#F4B36C" fill-opacity="0.92" stroke="#2a2a2a" stroke-width="0.8"/>
<circle cx="426.0" cy="266.5" r="3.6" fill="#F4B36C" fill-opacity="0.92" stroke="#2a2a2a" stroke-width="0.8"/>
<circle cx="424.2" cy="258.1" r="3.6" fill="#F4B36C" fill-opacity="0.92" stroke="#2a2a2a" stroke-width="0.8"/>
<circle cx="422.1" cy="242.2" r="3.6" fill="#F4B36C" fill-opacity="0.92" stroke="#2a2a2a" stroke-width="0.8"/>
<circle cx="426.0" cy="242.2" r="3.6" fill="#F4B36C" fill-opacity="0.92" stroke="#2a2a2a" stroke-width="0.8"/>
<circle cx="477.0" cy="328.4" r="3.6" fill="#F6575D" fill-opacity="0.92" stroke="#2a2a2a" stroke-width="0.8"/>
<circle cx="480.9" cy="328.4" r="3.6" fill="#F6575D" fill-opacity="0.92" stroke="#2a2a2a" stroke-width="0.8"/>
<circle cx="478.8" cy="317.2" r="3.6" fill="#F6575D" fill-opacity="0.92" stroke="#2a2a2a" stroke-width="0.8"/>
<circle cx="477.2" cy="287.2" r="3.6" fill="#F6575D" fill-opacity="0.92" stroke="#2a2a2a" stroke-width="0.8"/>
<circle cx="480.2" cy="287.2" r="3.6" fill="#F6575D" fill-opacity="0.92" stroke="#2a2a2a" stroke-width="0.8"/>
<circle cx="477.2" cy="274.3" r="3.6" fill="#F6575D" fill-opacity="0.92" stroke="#2a2a2a" stroke-width="0.8"/>
<circle cx="480.0" cy="274.3" r="3.6" fill="#F6575D" fill-opacity="0.92" stroke="#2a2a2a" stroke-width="0.8"/>
<circle cx="478.8" cy="269.2" r="3.6" fill="#F6575D" fill-opacity="0.92" stroke="#2a2a2a" stroke-width="0.8"/>
<circle cx="478.8" cy="262.6" r="3.6" fill="#F6575D" fill-opacity="0.92" stroke="#2a2a2a" stroke-width="0.8"/>
<line x1="424.125" y1="242.2" x2="424.125" y2="266.5" stroke="#333333" stroke-width="1.1" stroke-opacity="0.8"/>
<line x1="424.125" y1="321.2" x2="424.125" y2="331.1" stroke="#333333" stroke-width="1.1" stroke-opacity="0.8"/>
<rect x="403.5" y="266.5" width="41.25" height="54.69999999999999" fill="none" stroke="#4d4d4d" stroke-width="1.1" stroke-opacity="0.35"/>
<line x1="403.5" y1="284.2" x2="444.75" y2="284.2" stroke="#333333" stroke-width="1.6" stroke-opacity="0.6"/>
<line x1="478.65" y1="262.6" x2="478.65" y2="272.4" stroke="#333333" stroke-width="1.1" stroke-opacity="0.8"/>
<line x1="478.65" y1="317.4" x2="478.65" y2="328.4" stroke="#333333" stroke-width="1.1" stroke-opacity="0.8"/>
<rect x="458.5" y="272.4" width="40.30000000000001" height="45.0" fill="none" stroke="#4d4d4d" stroke-width="1.1" stroke-opacity="0.35"/>
<line x1="458.5" y1="285.2" x2="498.8" y2="285.2" stroke="#333333" stroke-width="1.6" stroke-opacity="0.6"/>
<line x1="410.375" y1="284.2" x2="437.875" y2="284.2" stroke="#333" stroke-width="1.9" />
<line x1="465.21666666666664" y1="285.2" x2="492.0833333333333" y2="285.2" stroke="#333" stroke-width="1.9" />
<text x="0" y="0" font-size="9.0" fill="#111" text-anchor="start" transform="translate(409.90,209.80) scale(0.97,1)" >Wilcoxon, p = 0.86</text>
</g>
<g>
<line x1="564.9" y1="201.9" x2="564.9" y2="368.54999999999995" stroke="#333333" stroke-width="1.3" />
<line x1="564.25" y1="367.9" x2="686" y2="367.9" stroke="#333333" stroke-width="1.3" />
<line x1="562.4" y1="209.6" x2="564.9" y2="209.6" stroke="#333333" stroke-width="1.1" />
<text x="0" y="0" font-size="11.4" fill="#4a4a4a" text-anchor="end" transform="translate(560.50,213.58) scale(0.95,1)" >100</text>
<line x1="562.4" y1="239.78" x2="564.9" y2="239.78" stroke="#333333" stroke-width="1.1" />
<text x="0" y="0" font-size="11.4" fill="#4a4a4a" text-anchor="end" transform="translate(560.50,243.76) scale(0.95,1)" >10</text>
<line x1="562.4" y1="269.96" x2="564.9" y2="269.96" stroke="#333333" stroke-width="1.1" />
<text x="0" y="0" font-size="11.4" fill="#4a4a4a" text-anchor="end" transform="translate(560.90,273.94) scale(0.95,1)" >1</text>
<line x1="562.4" y1="300.14" x2="564.9" y2="300.14" stroke="#333333" stroke-width="1.1" />
<text x="0" y="0" font-size="11.4" fill="#4a4a4a" text-anchor="end" transform="translate(560.90,304.12) scale(0.95,1)" >0.1</text>
<line x1="562.4" y1="330.32" x2="564.9" y2="330.32" stroke="#333333" stroke-width="1.1" />
<text x="0" y="0" font-size="11.4" fill="#4a4a4a" text-anchor="end" transform="translate(560.90,334.30) scale(0.95,1)" >0.01</text>
<line x1="562.4" y1="360.5" x2="564.9" y2="360.5" stroke="#333333" stroke-width="1.1" />
<text x="0" y="0" font-size="11.4" fill="#4a4a4a" text-anchor="end" transform="translate(560.90,364.48) scale(0.95,1)" >0.001</text>
<text x="0" y="0" font-size="11.45" fill="#000" text-anchor="middle" transform="translate(528.2,284.4) rotate(-90)">eVAF (%)</text>
<line x1="597.7" y1="367.9" x2="597.7" y2="370.2" stroke="#333333" stroke-width="1.1" />
<text x="597.7" y="379.7" font-size="11.4" fill="#4a4a4a" text-anchor="middle" >No</text>
<line x1="652.2" y1="367.9" x2="652.2" y2="370.2" stroke="#333333" stroke-width="1.1" />
<text x="652.2" y="379.7" font-size="11.4" fill="#4a4a4a" text-anchor="middle" >Yes</text>
<rect x="577.3" y="273.4" width="41.30000000000007" height="48.80000000000001" fill="#FBEFE3" stroke="#4d4d4d" stroke-width="1.1"/>
<line x1="577.3" y1="296.9" x2="618.6" y2="296.9" stroke="#333333" stroke-width="1.6" />
<rect x="631.4" y="258.9" width="41.10000000000002" height="17.900000000000034" fill="#FDDFE1" stroke="#4d4d4d" stroke-width="1.1"/>
<line x1="631.4" y1="263.7" x2="672.5" y2="263.7" stroke="#333333" stroke-width="1.6" />
<circle cx="593.8" cy="331.4" r="3.6" fill="#F4B36C" fill-opacity="0.92" stroke="#2a2a2a" stroke-width="0.8"/>
<circle cx="597.7" cy="331.4" r="3.6" fill="#F4B36C" fill-opacity="0.92" stroke="#2a2a2a" stroke-width="0.8"/>
<circle cx="601.7" cy="331.4" r="3.6" fill="#F4B36C" fill-opacity="0.92" stroke="#2a2a2a" stroke-width="0.8"/>
<circle cx="592.2" cy="324.2" r="3.6" fill="#F4B36C" fill-opacity="0.92" stroke="#2a2a2a" stroke-width="0.8"/>
<circle cx="596.0" cy="324.2" r="3.6" fill="#F4B36C" fill-opacity="0.92" stroke="#2a2a2a" stroke-width="0.8"/>
<circle cx="599.6" cy="324.2" r="3.6" fill="#F4B36C" fill-opacity="0.92" stroke="#2a2a2a" stroke-width="0.8"/>
<circle cx="603.2" cy="324.2" r="3.6" fill="#F4B36C" fill-opacity="0.92" stroke="#2a2a2a" stroke-width="0.8"/>
<circle cx="597.7" cy="316.9" r="3.6" fill="#F4B36C" fill-opacity="0.92" stroke="#2a2a2a" stroke-width="0.8"/>
<circle cx="597.7" cy="305.8" r="3.6" fill="#F4B36C" fill-opacity="0.92" stroke="#2a2a2a" stroke-width="0.8"/>
<circle cx="597.7" cy="296.9" r="3.6" fill="#F4B36C" fill-opacity="0.92" stroke="#2a2a2a" stroke-width="0.8"/>
<circle cx="593.8" cy="286.7" r="3.6" fill="#F4B36C" fill-opacity="0.92" stroke="#2a2a2a" stroke-width="0.8"/>
<circle cx="597.7" cy="286.7" r="3.6" fill="#F4B36C" fill-opacity="0.92" stroke="#2a2a2a" stroke-width="0.8"/>
<circle cx="601.7" cy="286.7" r="3.6" fill="#F4B36C" fill-opacity="0.92" stroke="#2a2a2a" stroke-width="0.8"/>
<circle cx="596.0" cy="274.2" r="3.6" fill="#F4B36C" fill-opacity="0.92" stroke="#2a2a2a" stroke-width="0.8"/>
<circle cx="599.4" cy="274.2" r="3.6" fill="#F4B36C" fill-opacity="0.92" stroke="#2a2a2a" stroke-width="0.8"/>
<circle cx="596.0" cy="268.7" r="3.6" fill="#F4B36C" fill-opacity="0.92" stroke="#2a2a2a" stroke-width="0.8"/>
<circle cx="599.4" cy="268.7" r="3.6" fill="#F4B36C" fill-opacity="0.92" stroke="#2a2a2a" stroke-width="0.8"/>
<circle cx="597.7" cy="262.4" r="3.6" fill="#F4B36C" fill-opacity="0.92" stroke="#2a2a2a" stroke-width="0.8"/>
<circle cx="597.7" cy="243.4" r="3.6" fill="#F4B36C" fill-opacity="0.92" stroke="#2a2a2a" stroke-width="0.8"/>
<circle cx="652" cy="282.4" r="3.6" fill="#F6575D" fill-opacity="0.92" stroke="#2a2a2a" stroke-width="0.8"/>
<circle cx="652" cy="276.1" r="3.6" fill="#F6575D" fill-opacity="0.92" stroke="#2a2a2a" stroke-width="0.8"/>
<circle cx="652" cy="264.2" r="3.6" fill="#F6575D" fill-opacity="0.92" stroke="#2a2a2a" stroke-width="0.8"/>
<circle cx="652" cy="257.6" r="3.6" fill="#F6575D" fill-opacity="0.92" stroke="#2a2a2a" stroke-width="0.8"/>
<circle cx="652" cy="241.1" r="3.6" fill="#F6575D" fill-opacity="0.92" stroke="#2a2a2a" stroke-width="0.8"/>
<line x1="597.95" y1="243.4" x2="597.95" y2="273.4" stroke="#333333" stroke-width="1.1" stroke-opacity="0.8"/>
<line x1="597.95" y1="322.2" x2="597.95" y2="331.4" stroke="#333333" stroke-width="1.1" stroke-opacity="0.8"/>
<rect x="577.3" y="273.4" width="41.30000000000007" height="48.80000000000001" fill="none" stroke="#4d4d4d" stroke-width="1.1" stroke-opacity="0.35"/>
<line x1="577.3" y1="296.9" x2="618.6" y2="296.9" stroke="#333333" stroke-width="1.6" stroke-opacity="0.6"/>
<line x1="651.95" y1="241.1" x2="651.95" y2="258.9" stroke="#333333" stroke-width="1.1" stroke-opacity="0.8"/>
<line x1="651.95" y1="276.8" x2="651.95" y2="282.4" stroke="#333333" stroke-width="1.1" stroke-opacity="0.8"/>
<rect x="631.4" y="258.9" width="41.10000000000002" height="17.900000000000034" fill="none" stroke="#4d4d4d" stroke-width="1.1" stroke-opacity="0.35"/>
<line x1="631.4" y1="263.7" x2="672.5" y2="263.7" stroke="#333333" stroke-width="1.6" stroke-opacity="0.6"/>
<line x1="584.1833333333334" y1="296.9" x2="611.7166666666667" y2="296.9" stroke="#333" stroke-width="1.9" />
<line x1="638.25" y1="263.7" x2="665.6500000000001" y2="263.7" stroke="#333" stroke-width="1.9" />
<text x="0" y="0" font-size="9.0" fill="#111" text-anchor="start" transform="translate(582.40,209.80) scale(0.97,1)" >Wilcoxon, p = 0.019</text>
<text x="0" y="0" font-size="11.5" fill="#000" text-anchor="middle" transform="translate(625.00,392.50) scale(0.96,1)" >Distant Relapse</text>
</g>
</svg>
</body></html>
